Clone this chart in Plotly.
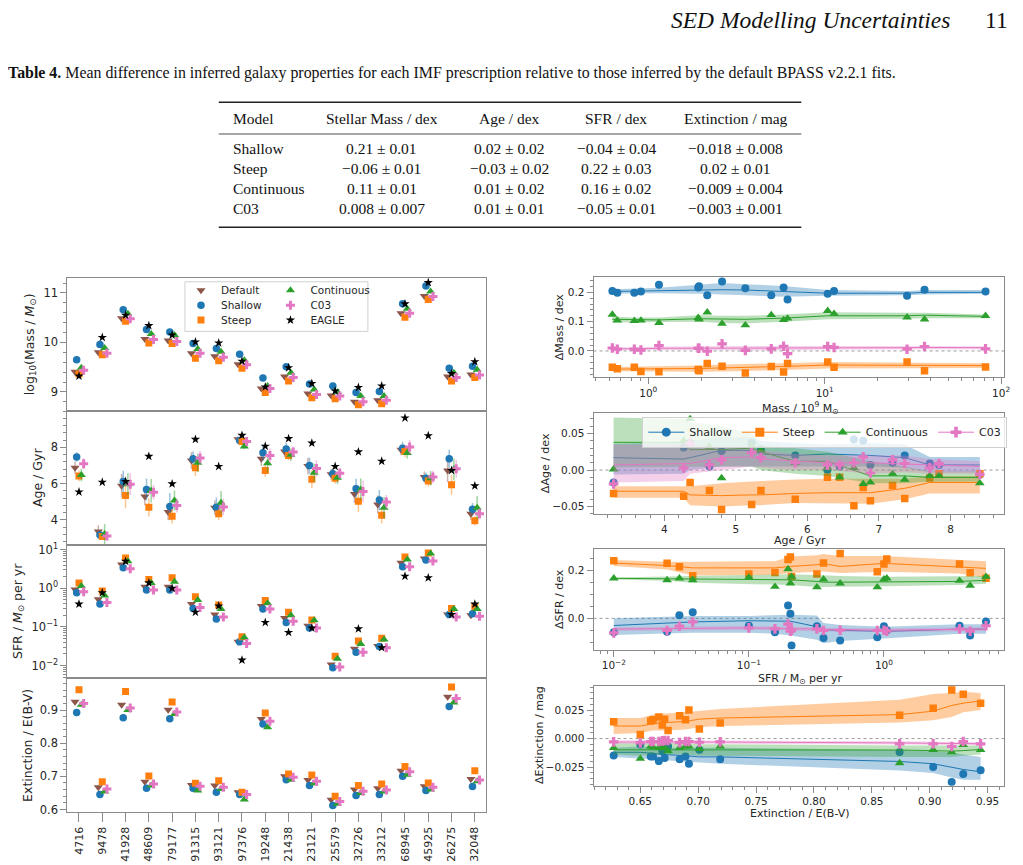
import plotly.graph_objects as go

# ---------------- left figure: 18 galaxies ----------------
galaxy_ids = ["4716", "9478", "41928", "48609", "79177", "91315", "93121", "97376", "19248",
              "21438", "23121", "25579", "32726", "33212", "68945", "45925", "26275", "32048"]

mass_default = [9.41, 9.80, 10.49, 10.07, 10.04, 9.78, 9.72, 9.56, 9.07, 9.31, 8.97, 8.93, 8.80, 8.83, 10.59, 10.94, 9.31, 9.35]
mass_shallow = [9.65, 9.96, 10.66, 10.26, 10.21, 9.98, 9.88, 9.76, 9.28, 9.51, 9.16, 9.12, 8.99, 9.01, 10.78, 11.14, 9.48, 9.52]
mass_steep = [9.36, 9.75, 10.43, 9.99, 9.98, 9.68, 9.63, 9.48, 8.99, 9.22, 8.88, 8.86, 8.74, 8.76, 10.51, 10.87, 9.22, 9.29]
mass_cont = [9.49, 9.89, 10.58, 10.17, 10.15, 9.87, 9.81, 9.64, 9.12, 9.39, 9.05, 9.00, 8.92, 8.92, 10.68, 11.03, 9.39, 9.45]
mass_c03 = [9.44, 9.78, 10.48, 10.06, 10.02, 9.78, 9.70, 9.55, 9.07, 9.29, 8.95, 8.92, 8.80, 8.83, 10.59, 10.93, 9.29, 9.34]
mass_eagle = [9.32, 10.10, 10.55, 10.34, 10.15, 10.01, 9.99, 9.62, 9.10, 9.49, 9.17, 9.02, 9.09, 9.12, 10.78, 11.21, 9.37, 9.61]

age_default = [6.88, 3.35, 5.88, 5.29, 4.43, 7.28, 4.67, 8.45, 7.38, 7.78, 6.97, 6.52, 5.43, 4.85, 7.87, 6.37, 6.73, 4.34]
age_shallow = [7.48, 3.17, 6.12, 5.68, 4.74, 7.38, 4.69, 8.38, 7.71, 7.91, 7.00, 6.55, 5.72, 5.10, 7.96, 6.30, 7.37, 4.58]
age_steep = [6.43, 3.08, 5.34, 4.69, 4.20, 6.88, 4.34, 8.33, 6.73, 7.55, 6.24, 6.30, 5.03, 4.25, 7.78, 6.15, 5.94, 3.95]
age_cont = [6.48, 3.22, 5.97, 5.61, 5.07, 7.15, 4.94, 8.05, 7.13, 7.60, 6.61, 6.33, 5.68, 4.67, 7.69, 6.30, 6.79, 4.67]
age_c03 = [7.10, 3.11, 5.97, 5.52, 4.80, 7.42, 4.71, 8.33, 7.55, 7.75, 6.84, 6.57, 5.57, 4.98, 8.02, 6.37, 6.82, 4.34]
age_eagle = [5.54, 6.08, 6.12, 7.51, 5.99, 8.45, 6.95, 8.67, 8.07, 8.49, 8.24, 6.95, 7.76, 7.24, 9.63, 8.65, 6.73, 5.88]

age_err_default = [0.35, 0.35, 0.65, 0.5, 0.45, 0.45, 0.4, 0.15, 0.4, 0.3, 0.45, 0.3, 0.5, 0.5, 0.3, 0.3, 0.65, 0.35]
age_err_shallow = [0.25, 0.15, 0.6, 0.6, 0.75, 0.4, 0.55, 0.15, 0.45, 0.35, 0.45, 0.3, 0.55, 0.55, 0.35, 0.3, 0.5, 0.35]
age_err_steep = [0.3, 0.15, 0.7, 0.5, 0.4, 0.45, 0.35, 0.15, 0.35, 0.25, 0.5, 0.3, 0.6, 0.45, 0.3, 0.3, 0.55, 0.25]
age_err_cont = [0.35, 0.55, 0.6, 0.65, 0.55, 0.5, 0.65, 0.15, 0.5, 0.35, 0.5, 0.35, 0.6, 0.6, 0.3, 0.4, 0.6, 0.65]
age_err_c03 = [0.3, 0.15, 0.6, 0.4, 0.4, 0.4, 0.45, 0.15, 0.4, 0.3, 0.45, 0.3, 0.6, 0.4, 0.4, 0.35, 0.5, 0.3]

sfr_default = [0.93, 0.52, 4.1, 1.1, 1.1, 0.39, 0.21, 0.041, 0.35, 0.17, 0.107, 0.0107, 0.027, 0.032, 4.6, 5.9, 0.21, 0.20]
sfr_shallow = [0.77, 0.39, 3.4, 0.9, 0.9, 0.30, 0.16, 0.041, 0.29, 0.13, 0.093, 0.0087, 0.022, 0.031, 3.6, 5.4, 0.21, 0.22]
sfr_steep = [1.38, 0.85, 6.1, 1.7, 1.87, 0.60, 0.37, 0.056, 0.48, 0.24, 0.15, 0.0174, 0.043, 0.051, 6.5, 8.2, 0.30, 0.34]
sfr_cont = [1.15, 0.65, 5.0, 1.38, 1.48, 0.50, 0.29, 0.053, 0.41, 0.20, 0.148, 0.015, 0.036, 0.047, 5.6, 7.9, 0.29, 0.29]
sfr_c03 = [0.81, 0.43, 3.2, 0.9, 0.9, 0.32, 0.18, 0.037, 0.29, 0.14, 0.093, 0.0091, 0.022, 0.029, 3.6, 5.1, 0.18, 0.19]
sfr_eagle = [0.39, 0.77, 5.0, 1.38, 1.0, 0.24, 0.35, 0.0138, 0.13, 0.072, 0.093, None, 0.089, 0.029, 2.05, 1.87, 0.21, 0.39]

ext_default = [0.925, 0.667, 0.916, 0.684, 0.901, 0.674, 0.672, 0.652, 0.873, 0.700, 0.689, 0.629, 0.660, 0.664, 0.717, 0.670, 0.940, 0.692]
ext_shallow = [0.893, 0.645, 0.877, 0.664, 0.874, 0.664, 0.652, 0.645, 0.858, 0.690, 0.672, 0.612, 0.642, 0.645, 0.700, 0.657, 0.911, 0.669]
ext_steep = [0.961, 0.684, 0.956, 0.701, 0.924, 0.679, 0.687, 0.652, 0.891, 0.707, 0.704, 0.640, 0.672, 0.677, 0.730, 0.680, 0.970, 0.717]
ext_cont = [0.916, 0.654, 0.900, 0.672, 0.888, 0.657, 0.662, 0.630, 0.848, 0.690, 0.679, 0.617, 0.650, 0.654, 0.705, 0.660, 0.923, 0.685]
ext_c03 = [0.920, 0.662, 0.906, 0.677, 0.894, 0.670, 0.667, 0.645, 0.866, 0.697, 0.685, 0.624, 0.655, 0.659, 0.714, 0.667, 0.935, 0.689]

# ---------------- right figure: differences vs default ----------------
dmass_x = [0.626, 0.668, 0.834, 0.909, 1.15, 1.92, 1.94, 2.16, 2.62, 3.55, 4.98, 5.85, 6.16, 10.4, 11.3, 29.3, 36.8, 81.6]
dmass_shallow = [0.205, 0.199, 0.199, 0.203, 0.226, 0.217, 0.221, 0.190, 0.237, 0.214, 0.190, 0.217, 0.176, 0.195, 0.205, 0.188, 0.209, 0.203]
dmass_steep = [-0.056, -0.061, -0.056, -0.070, -0.071, -0.063, -0.068, -0.043, -0.052, -0.075, -0.053, -0.072, -0.043, -0.038, -0.056, -0.038, -0.068, -0.055]
dmass_cont = [0.124, 0.104, 0.103, 0.104, 0.096, 0.113, 0.108, 0.132, 0.093, 0.088, 0.123, 0.106, 0.111, 0.137, 0.127, 0.115, 0.108, 0.120]
dmass_c03 = [0.010, 0.006, 0.006, 0.003, 0.018, 0.009, 0.009, -0.001, 0.024, 0.002, 0.007, 0.016, -0.009, 0.015, 0.012, 0.006, 0.015, 0.007]

dmass_nodes = [0.626, 0.834, 1.15, 1.94, 2.62, 3.55, 5.85, 10.4, 29.3, 36.8, 81.6]
dmass_shallow_mid = [0.203, 0.204, 0.207, 0.209, 0.209, 0.208, 0.204, 0.197, 0.197, 0.200, 0.200]
dmass_shallow_lo = [0.195, 0.196, 0.197, 0.195, 0.193, 0.190, 0.185, 0.188, 0.190, 0.193, 0.195]
dmass_shallow_hi = [0.211, 0.213, 0.216, 0.226, 0.232, 0.228, 0.222, 0.208, 0.205, 0.208, 0.208]
dmass_steep_mid = [-0.062, -0.062, -0.061, -0.060, -0.058, -0.057, -0.053, -0.048, -0.049, -0.050, -0.050]
dmass_steep_lo = [-0.069, -0.070, -0.071, -0.071, -0.070, -0.069, -0.065, -0.060, -0.058, -0.060, -0.058]
dmass_steep_hi = [-0.055, -0.054, -0.052, -0.050, -0.046, -0.045, -0.042, -0.038, -0.040, -0.040, -0.042]
dmass_cont_mid = [0.108, 0.106, 0.106, 0.110, 0.108, 0.108, 0.112, 0.120, 0.120, 0.122, 0.118]
dmass_cont_lo = [0.097, 0.098, 0.097, 0.100, 0.095, 0.094, 0.100, 0.108, 0.110, 0.112, 0.112]
dmass_cont_hi = [0.118, 0.114, 0.114, 0.122, 0.120, 0.120, 0.124, 0.132, 0.130, 0.130, 0.124]
dmass_c03_mid = [0.008, 0.007, 0.009, 0.009, 0.010, 0.009, 0.010, 0.011, 0.011, 0.012, 0.011]
dmass_c03_lo = [0.003, 0.002, 0.003, 0.003, 0.003, 0.003, 0.002, 0.005, 0.005, 0.006, 0.006]
dmass_c03_hi = [0.013, 0.012, 0.015, 0.016, 0.017, 0.016, 0.017, 0.017, 0.017, 0.018, 0.016]

dage_x = [3.29, 4.27, 4.36, 4.63, 4.80, 5.22, 5.35, 5.83, 6.28, 6.45, 6.65, 6.78, 6.88, 7.19, 7.36, 7.71, 7.84, 8.41]
dage_shallow = [-0.017, 0.031, 0.037, 0.005, 0.026, 0.037, 0.028, 0.020, 0.000, 0.005, 0.042, 0.040, 0.007, 0.010, 0.020, 0.009, 0.007, -0.006]
dage_steep = [-0.032, -0.036, -0.017, -0.028, -0.054, -0.047, -0.028, -0.040, -0.010, -0.010, -0.049, -0.024, -0.042, -0.021, -0.039, -0.011, -0.005, -0.005]
dage_cont = [0.001, 0.040, 0.070, 0.032, -0.011, 0.033, 0.027, 0.010, 0.003, -0.010, 0.003, -0.019, -0.017, -0.005, -0.013, -0.008, -0.008, -0.018]
dage_c03 = [-0.019, 0.003, 0.037, 0.007, 0.014, 0.024, 0.017, 0.010, 0.007, 0.007, 0.010, 0.018, -0.004, 0.014, 0.009, 0.003, 0.009, -0.006]

dage_nodes = [3.29, 4.27, 4.36, 4.80, 5.22, 5.35, 5.83, 6.28, 6.88, 7.36, 7.71, 8.41]
dage_shallow_mid = [0.017, 0.015, 0.017, 0.027, 0.027, 0.022, 0.020, 0.022, 0.020, 0.017, 0.007, 0.007]
dage_shallow_lo = [-0.006, -0.005, 0.000, 0.005, 0.005, 0.005, 0.005, 0.005, 0.005, 0.003, -0.003, -0.003]
dage_shallow_hi = [0.036, 0.038, 0.040, 0.045, 0.045, 0.040, 0.037, 0.035, 0.037, 0.035, 0.018, 0.018]
dage_steep_mid = [-0.029, -0.029, -0.034, -0.035, -0.034, -0.034, -0.032, -0.031, -0.031, -0.025, -0.017, -0.017]
dage_steep_lo = [-0.038, -0.038, -0.048, -0.050, -0.048, -0.048, -0.045, -0.045, -0.046, -0.040, -0.032, -0.032]
dage_steep_hi = [-0.022, -0.022, -0.022, -0.018, -0.015, -0.015, -0.013, -0.012, -0.012, -0.012, -0.008, -0.008]
dage_cont_mid = [0.038, 0.038, 0.028, 0.028, 0.030, 0.025, 0.012, 0.012, -0.008, -0.008, -0.010, -0.010]
dage_cont_lo = [0.004, 0.004, 0.004, 0.005, 0.005, 0.000, -0.005, -0.008, -0.018, -0.018, -0.016, -0.016]
dage_cont_hi = [0.072, 0.070, 0.066, 0.060, 0.050, 0.035, 0.030, 0.025, 0.012, 0.005, -0.002, -0.002]
dage_c03_mid = [0.007, 0.008, 0.009, 0.017, 0.018, 0.015, 0.012, 0.010, 0.010, 0.008, 0.007, 0.005]
dage_c03_lo = [-0.017, -0.015, -0.005, 0.000, 0.005, 0.003, 0.000, 0.000, -0.005, -0.003, -0.005, -0.005]
dage_c03_hi = [0.035, 0.035, 0.035, 0.030, 0.030, 0.027, 0.022, 0.020, 0.020, 0.020, 0.015, 0.012]

dsfr_x = [0.0100, 0.0248, 0.0306, 0.0384, 0.100, 0.156, 0.195, 0.203, 0.207, 0.319, 0.357, 0.474, 0.893, 1.00, 1.05, 3.63, 4.35, 5.70]
dsfr_shallow = [-0.058, -0.056, 0.013, 0.026, -0.031, -0.058, 0.054, 0.019, -0.114, -0.033, -0.082, -0.093, -0.079, -0.033, -0.050, -0.031, -0.072, -0.013]
dsfr_steep = [0.242, 0.231, 0.217, 0.179, 0.186, 0.193, 0.247, 0.258, 0.175, 0.186, 0.233, 0.272, 0.196, 0.228, 0.249, 0.228, 0.192, 0.168]
dsfr_cont = [0.168, 0.161, 0.168, 0.161, 0.172, 0.133, 0.207, 0.147, 0.175, 0.131, 0.164, 0.147, 0.131, 0.164, 0.168, 0.158, 0.138, 0.175]
dsfr_c03 = [-0.061, -0.051, -0.033, -0.015, -0.040, -0.044, -0.024, -0.054, -0.050, -0.044, -0.051, -0.050, -0.051, -0.050, -0.054, -0.044, -0.054, -0.031]

dsfr_nodes = [0.0100, 0.0248, 0.0384, 0.100, 0.156, 0.203, 0.319, 0.357, 0.474, 1.00, 3.63, 5.70]
dsfr_shallow_mid = [-0.030, -0.020, -0.015, -0.010, -0.012, -0.012, -0.035, -0.048, -0.050, -0.055, -0.045, -0.045]
dsfr_shallow_lo = [-0.070, -0.065, -0.060, -0.060, -0.065, -0.072, -0.090, -0.105, -0.095, -0.085, -0.065, -0.065]
dsfr_shallow_hi = [0.000, 0.005, 0.010, 0.010, 0.012, 0.015, 0.012, -0.020, -0.028, -0.035, -0.025, -0.025]
dsfr_steep_mid = [0.232, 0.222, 0.212, 0.212, 0.212, 0.218, 0.225, 0.230, 0.218, 0.231, 0.217, 0.210]
dsfr_steep_lo = [0.220, 0.205, 0.180, 0.183, 0.183, 0.190, 0.195, 0.197, 0.190, 0.196, 0.188, 0.170]
dsfr_steep_hi = [0.245, 0.238, 0.238, 0.240, 0.240, 0.260, 0.265, 0.270, 0.262, 0.262, 0.245, 0.240]
dsfr_cont_mid = [0.168, 0.166, 0.165, 0.165, 0.163, 0.162, 0.155, 0.152, 0.152, 0.152, 0.155, 0.160]
dsfr_cont_lo = [0.163, 0.158, 0.150, 0.145, 0.142, 0.140, 0.132, 0.132, 0.133, 0.135, 0.140, 0.145]
dsfr_cont_hi = [0.172, 0.174, 0.178, 0.182, 0.183, 0.185, 0.182, 0.180, 0.178, 0.175, 0.176, 0.178]
dsfr_c03_mid = [-0.045, -0.043, -0.040, -0.040, -0.042, -0.043, -0.045, -0.048, -0.048, -0.050, -0.046, -0.045]
dsfr_c03_lo = [-0.053, -0.050, -0.048, -0.048, -0.050, -0.052, -0.053, -0.055, -0.055, -0.057, -0.055, -0.053]
dsfr_c03_hi = [-0.037, -0.035, -0.032, -0.032, -0.034, -0.034, -0.037, -0.040, -0.041, -0.043, -0.038, -0.037]

dext_x = [0.627, 0.650, 0.659, 0.661, 0.666, 0.669, 0.671, 0.674, 0.684, 0.689, 0.692, 0.701, 0.719, 0.874, 0.903, 0.919, 0.929, 0.944]
dext_shallow = [-0.0147, -0.0052, -0.0156, -0.0156, -0.0197, -0.011, -0.017, -0.0069, -0.018, -0.0156, -0.022, -0.0098, -0.018, -0.0118, -0.0249, -0.0379, -0.031, -0.0277]
dext_steep = [0.0147, 0.0035, 0.0153, 0.0165, 0.019, 0.012, 0.017, 0.007, 0.020, 0.0165, 0.025, 0.0084, 0.0136, 0.0205, 0.0266, 0.0425, 0.0387, 0.031]
dext_cont = [-0.0081, -0.0176, -0.0069, -0.0075, -0.0081, -0.0069, -0.0084, -0.011, -0.0081, -0.0069, -0.0069, -0.009, -0.0069, -0.0214, -0.0098, -0.0118, -0.0055, -0.0098]
dext_c03 = [-0.0029, -0.0038, -0.0026, -0.0026, -0.0026, -0.0020, -0.0017, -0.0017, -0.0035, -0.0026, -0.0026, -0.0032, -0.0029, -0.0046, -0.0046, -0.0069, -0.0026, -0.0046]

dext_nodes = [0.627, 0.650, 0.661, 0.671, 0.689, 0.701, 0.719, 0.874, 0.903, 0.919, 0.929, 0.944]
dext_shallow_mid = [-0.012, -0.012, -0.013, -0.014, -0.015, -0.016, -0.016, -0.020, -0.022, -0.025, -0.027, -0.029]
dext_shallow_lo = [-0.016, -0.017, -0.018, -0.019, -0.020, -0.021, -0.022, -0.028, -0.030, -0.034, -0.036, -0.036]
dext_shallow_hi = [-0.008, -0.007, -0.008, -0.008, -0.008, -0.008, -0.008, -0.010, -0.011, -0.012, -0.014, -0.016]
dext_steep_mid = [0.011, 0.011, 0.013, 0.014, 0.015, 0.017, 0.018, 0.021, 0.024, 0.029, 0.031, 0.033]
dext_steep_lo = [0.004, 0.005, 0.007, 0.007, 0.008, 0.010, 0.011, 0.014, 0.016, 0.019, 0.023, 0.025]
dext_steep_hi = [0.018, 0.018, 0.021, 0.022, 0.023, 0.024, 0.026, 0.034, 0.039, 0.040, 0.041, 0.040]
dext_cont_mid = [-0.0098, -0.0098, -0.0096, -0.0095, -0.0095, -0.0097, -0.0098, -0.0100, -0.0105, -0.0110, -0.0105, -0.0095]
dext_cont_lo = [-0.014, -0.015, -0.014, -0.014, -0.014, -0.015, -0.015, -0.016, -0.016, -0.016, -0.015, -0.014]
dext_cont_hi = [-0.004, -0.004, -0.004, -0.004, -0.004, -0.005, -0.005, -0.006, -0.006, -0.006, -0.006, -0.006]
dext_c03_mid = [-0.0030, -0.0030, -0.0028, -0.0026, -0.0028, -0.0030, -0.0030, -0.0038, -0.0042, -0.0045, -0.0045, -0.0045]
dext_c03_lo = [-0.0045, -0.0045, -0.0042, -0.0040, -0.0042, -0.0044, -0.0045, -0.0052, -0.0056, -0.0060, -0.0060, -0.0058]
dext_c03_hi = [-0.0015, -0.0015, -0.0014, -0.0012, -0.0014, -0.0016, -0.0016, -0.0024, -0.0028, -0.0030, -0.0030, -0.0032]

# ---------------- table 4 ----------------
table_header = ["Model", "Stellar Mass / dex", "Age / dex", "SFR / dex", "Extinction / mag"]
table_models = ["Shallow", "Steep", "Continuous", "C03"]
table_mass = ["0.21 ± 0.01", "−0.06 ± 0.01", "0.11 ± 0.01", "0.008 ± 0.007"]
table_age = ["0.02 ± 0.02", "−0.03 ± 0.02", "0.01 ± 0.02", "0.01 ± 0.01"]
table_sfr = ["−0.04 ± 0.04", "0.22 ± 0.03", "0.16 ± 0.02", "−0.05 ± 0.01"]
table_ext = ["−0.018 ± 0.008", "0.02 ± 0.01", "−0.009 ± 0.004", "−0.003 ± 0.001"]

# ---------------- styling ----------------
W, H = 1023, 865
PAGE_OFF = 8  # the html body margin shifts the figure by 8px
FONT = "DejaVu Sans"
SERIF = "Liberation Serif"
AX = "#8a8a8a"
TXT = "#262626"

COLORS = {"Default": "#8c564b", "Shallow": "#1f77b4", "Steep": "#ff7f0e",
          "Continuous": "#2ca02c", "C03": "#e377c2", "EAGLE": "#000000"}
BANDS = {"Shallow": "rgba(31,119,180,0.35)", "Steep": "rgba(255,127,14,0.4)",
         "Continuous": "rgba(44,160,44,0.32)", "C03": "rgba(227,119,194,0.35)"}
SYMBOLS = {"Default": "triangle-down", "Shallow": "circle", "Steep": "square",
           "Continuous": "triangle-up", "C03": "cross", "EAGLE": "star"}
SIZES = {"Default": 8, "Shallow": 7.5, "Steep": 7, "Continuous": 8, "C03": 7.5, "EAGLE": 7}
OFFSETS = {"Default": -0.17, "Shallow": -0.1, "Steep": 0.0, "Continuous": 0.1, "C03": 0.2, "EAGLE": 0.0}


def px(x):
    return (x - PAGE_OFF) / W


def py(y):
    return 1 - (y - PAGE_OFF) / H


def log_minor(e0, e1):
    return [m * 10 ** e for e in range(e0, e1) for m in range(2, 10)]


fig = go.Figure()

# ---- left panels ----
left_sets = [
    ("y", {"Default": mass_default, "Shallow": mass_shallow, "Steep": mass_steep,
           "Continuous": mass_cont, "C03": mass_c03, "EAGLE": mass_eagle}, None),
    ("y2", {"Default": age_default, "Shallow": age_shallow, "Steep": age_steep,
            "Continuous": age_cont, "C03": age_c03, "EAGLE": age_eagle},
     {"Default": age_err_default, "Shallow": age_err_shallow, "Steep": age_err_steep,
      "Continuous": age_err_cont, "C03": age_err_c03}),
    ("y3", {"Default": sfr_default, "Shallow": sfr_shallow, "Steep": sfr_steep,
            "Continuous": sfr_cont, "C03": sfr_c03, "EAGLE": sfr_eagle}, None),
    ("y4", {"Default": ext_default, "Shallow": ext_shallow, "Steep": ext_steep,
            "Continuous": ext_cont, "C03": ext_c03}, None),
]
# one single-entry legend per item so the two-column box can be laid out exactly
left_legend = {"Default": "legend", "Shallow": "legend2", "Steep": "legend3",
               "Continuous": "legend4", "C03": "legend5", "EAGLE": "legend6"}

for k, (yax, vals, errs) in enumerate(left_sets):
    xax = "x" if k == 0 else f"x{k + 1}"
    for name, ys in vals.items():
        err = None
        if errs is not None and name in errs:
            c = COLORS[name].lstrip("#")
            rgb = tuple(int(c[i:i + 2], 16) for i in (0, 2, 4))
            err = dict(type="data", array=errs[name], thickness=1.5, width=0,
                       color=f"rgba({rgb[0]},{rgb[1]},{rgb[2]},0.45)")
        fig.add_trace(go.Scatter(
            x=[i + OFFSETS[name] for i in range(len(ys))], y=ys,
            mode="markers", name=name, xaxis=xax, yaxis=yax,
            marker=dict(symbol=SYMBOLS[name], size=SIZES[name], color=COLORS[name], line=dict(width=0)),
            error_y=err, showlegend=(k == 0), legend=left_legend[name],
        ))

# ---- right panels ----
right_sets = [
    ("x5", "y5", dmass_x, dmass_nodes, {
        "Shallow": (dmass_shallow, dmass_shallow_mid, dmass_shallow_lo, dmass_shallow_hi),
        "Steep": (dmass_steep, dmass_steep_mid, dmass_steep_lo, dmass_steep_hi),
        "Continuous": (dmass_cont, dmass_cont_mid, dmass_cont_lo, dmass_cont_hi),
        "C03": (dmass_c03, dmass_c03_mid, dmass_c03_lo, dmass_c03_hi)}),
    ("x6", "y6", dage_x, dage_nodes, {
        "Shallow": (dage_shallow, dage_shallow_mid, dage_shallow_lo, dage_shallow_hi),
        "Steep": (dage_steep, dage_steep_mid, dage_steep_lo, dage_steep_hi),
        "Continuous": (dage_cont, dage_cont_mid, dage_cont_lo, dage_cont_hi),
        "C03": (dage_c03, dage_c03_mid, dage_c03_lo, dage_c03_hi)}),
    ("x7", "y7", dsfr_x, dsfr_nodes, {
        "Shallow": (dsfr_shallow, dsfr_shallow_mid, dsfr_shallow_lo, dsfr_shallow_hi),
        "Steep": (dsfr_steep, dsfr_steep_mid, dsfr_steep_lo, dsfr_steep_hi),
        "Continuous": (dsfr_cont, dsfr_cont_mid, dsfr_cont_lo, dsfr_cont_hi),
        "C03": (dsfr_c03, dsfr_c03_mid, dsfr_c03_lo, dsfr_c03_hi)}),
    ("x8", "y8", dext_x, dext_nodes, {
        "Shallow": (dext_shallow, dext_shallow_mid, dext_shallow_lo, dext_shallow_hi),
        "Steep": (dext_steep, dext_steep_mid, dext_steep_lo, dext_steep_hi),
        "Continuous": (dext_cont, dext_cont_mid, dext_cont_lo, dext_cont_hi),
        "C03": (dext_c03, dext_c03_mid, dext_c03_lo, dext_c03_hi)}),
]

for xax, yax, xs, nodes, series in right_sets:
    for name, (pts, mid, lo, hi) in series.items():
        fig.add_trace(go.Scatter(x=nodes, y=lo, mode="lines", line=dict(width=0),
                                 xaxis=xax, yaxis=yax, showlegend=False, hoverinfo="skip"))
        fig.add_trace(go.Scatter(x=nodes, y=hi, mode="lines", line=dict(width=0),
                                 fill="tonexty", fillcolor=BANDS[name],
                                 xaxis=xax, yaxis=yax, showlegend=False, hoverinfo="skip"))
        fig.add_trace(go.Scatter(x=nodes, y=mid, mode="lines", line=dict(color=COLORS[name], width=1),
                                 xaxis=xax, yaxis=yax, showlegend=False))
        fig.add_trace(go.Scatter(x=xs, y=pts, mode="markers", xaxis=xax, yaxis=yax, showlegend=False,
                                 marker=dict(symbol=SYMBOLS[name], size=SIZES[name] + 0.5,
                                             color=COLORS[name], line=dict(width=0))))

# legend entries for the right-hand figure (line + marker)
for name in ["Shallow", "Steep", "Continuous", "C03"]:
    fig.add_trace(go.Scatter(x=[None], y=[None], mode="lines+markers", name=name,
                             xaxis="x6", yaxis="y6", legend="legend7",
                             line=dict(color=COLORS[name], width=1),
                             marker=dict(symbol=SYMBOLS[name], size=9, color=COLORS[name])))

# ---------------- axes ----------------
TICKF_L = dict(family=FONT, size=11.5, color=TXT)
TICKF_R = dict(family=FONT, size=10.5, color=TXT)


def axis(domain, anchor, rng, tickf, **kw):
    d = dict(domain=domain, anchor=anchor, range=rng, showline=True, mirror=True,
             linecolor=AX, linewidth=1, showgrid=False, zeroline=False,
             ticks="outside", ticklen=6, tickcolor=AX, tickwidth=1, tickfont=tickf)
    d.update(kw)
    return d


def minor(**kw):
    d = dict(ticks="outside", ticklen=3, tickcolor=AX, tickwidth=1, showgrid=False)
    d.update(kw)
    return d


LX = [px(67.7), px(489.3)]
RX = [px(597), px(1010)]
left_y = [[py(411), py(277.3)], [py(546), py(411)], [py(680.7), py(546)], [py(816), py(680.7)]]
right_y = [[py(377), py(276)], [py(515), py(413)], [py(652), py(550.7)], [py(789), py(688.3)]]

lay = {}
for k in range(4):
    key = "xaxis" if k == 0 else f"xaxis{k + 1}"
    anchor = "y" if k == 0 else f"y{k + 1}"
    bottom = k == 3
    lay[key] = axis(LX, anchor, [-0.5, 17.5], dict(family=FONT, size=11, color=TXT), tickmode="array",
                    tickvals=list(range(len(galaxy_ids))), ticktext=galaxy_ids,
                    ticks="outside" if bottom else "", ticklen=9,
                    showticklabels=bottom, tickangle=-90)

lay["yaxis"] = axis(left_y[0], "x", [8.62, 11.3], TICKF_L, dtick=1, tick0=9,
                    minor=minor(dtick=0.2, tick0=9))
lay["yaxis2"] = axis(left_y[1], "x2", [2.63, 10.03], TICKF_L, tickvals=[4, 6, 8],
                     minor=minor(dtick=0.4, tick0=0))
lay["yaxis3"] = axis(left_y[2], "x3", [-2.33, 1.13], TICKF_L, type="log",
                     tickvals=[0.01, 0.1, 1, 10],
                     ticktext=["10<sup>−2</sup>", "10<sup>−1</sup>", "10<sup>0</sup>", "10<sup>1</sup>"],
                     minor=minor(tickmode="array", tickvals=log_minor(-3, 2)))
lay["yaxis4"] = axis(left_y[3], "x4", [0.591, 0.996], TICKF_L, dtick=0.1, tick0=0.6,
                     tickformat=".1f", minor=minor(dtick=0.02, tick0=0.6))

lay["xaxis5"] = axis(RX, "y5", [-0.31, 2.017], TICKF_R, type="log", tickvals=[1, 10, 100],
                     ticktext=["10<sup>0</sup>", "10<sup>1</sup>", "10<sup>2</sup>"],
                     minor=minor(tickmode="array", tickvals=log_minor(-1, 3)))
lay["yaxis5"] = axis(right_y[0], "x5", [-0.089, 0.253], TICKF_R, tickvals=[0, 0.1, 0.2],
                     tickformat=".1f", minor=minor(dtick=0.02, tick0=0))
lay["xaxis6"] = axis(RX, "y6", [3.01, 8.75], TICKF_R, dtick=1, tick0=0,
                     minor=minor(dtick=0.2, tick0=0))
lay["yaxis6"] = axis(right_y[1], "x6", [-0.060, 0.0785], TICKF_R, tickvals=[-0.05, 0, 0.05],
                     tickformat=".2f", minor=minor(dtick=0.01, tick0=0))
lay["xaxis7"] = axis(RX, "y7", [-2.15, 0.89], TICKF_R, type="log", tickvals=[0.01, 0.1, 1],
                     ticktext=["10<sup>−2</sup>", "10<sup>−1</sup>", "10<sup>0</sup>"],
                     minor=minor(tickmode="array", tickvals=log_minor(-3, 1)))
lay["yaxis7"] = axis(right_y[2], "x7", [-0.132, 0.29], TICKF_R, tickvals=[0, 0.2],
                     tickformat=".1f", minor=minor(dtick=0.05, tick0=0))
lay["xaxis8"] = axis(RX, "y8", [0.6096, 0.9643], TICKF_R, dtick=0.05, tick0=0.6,
                     tickformat=".2f", minor=minor(dtick=0.01, tick0=0.6))
lay["yaxis8"] = axis(right_y[3], "x8", [-0.0412, 0.0462], TICKF_R, tickvals=[-0.025, 0, 0.025],
                     tickformat=".3f", minor=minor(dtick=0.005, tick0=0))

fig.update_layout(**lay)

# ---------------- axis titles ----------------
ann = []


def title(text, x, y, size, angle=0):
    ann.append(dict(text=text, x=px(x), y=py(y), xref="paper", yref="paper",
                    showarrow=False, textangle=angle, xanchor="center", yanchor="middle",
                    font=dict(family=FONT, size=size, color=TXT)))


title("log<sub>10</sub>(Mass / <i>M</i><sub>⊙</sub>)", 30, 344, 12.5, -90)
title("Age / Gyr", 37, 478, 12.5, -90)
title("SFR / <i>M</i><sub>⊙</sub> per yr", 18, 613, 12.5, -90)
title("Extinction / E(B-V)", 27, 748, 12.5, -90)

title("ΔMass / dex", 563, 327, 11, -90)
title("ΔAge / dex", 548, 464, 11, -90)
title("ΔSFR / dex", 562, 601, 11, -90)
title("ΔExtinction / mag", 542, 738, 11, -90)
title("Mass / 10<sup>9</sup> M<sub>⊙</sub>", 805, 408, 11)
title("Age / Gyr", 805, 542, 11)
title("SFR / M<sub>⊙</sub> per yr", 805, 681, 11)
title("Extinction / E(B-V)", 805, 817, 11)

# ---------------- page header, caption and table ----------------
ann.append(dict(text="<i>SED Modelling Uncertainties</i>", x=px(958), y=py(17), xref="paper", yref="paper",
                showarrow=False, xanchor="right", yanchor="middle",
                font=dict(family=SERIF, size=23.5, color="#111")))
ann.append(dict(text="11", x=px(1016), y=py(17), xref="paper", yref="paper",
                showarrow=False, xanchor="right", yanchor="middle",
                font=dict(family=SERIF, size=23.5, color="#111")))
ann.append(dict(text="<b>Table 4.</b> Mean difference in inferred galaxy properties for each IMF prescription "
                     "relative to those inferred by the default BPASS v2.2.1 fits.",
                x=px(6), y=py(71), xref="paper", yref="paper", showarrow=False,
                xanchor="left", yanchor="middle", font=dict(family=SERIF, size=15.9, color="#111")))

col_x = [232, 384, 512, 620, 740]
row_y = [147, 167, 187, 207]
for j, head in enumerate(table_header):
    ann.append(dict(text=head, x=px(col_x[j]), y=py(116), xref="paper", yref="paper", showarrow=False,
                    xanchor="left" if j == 0 else "center", yanchor="middle",
                    font=dict(family=SERIF, size=15.5, color="#111")))
for i, model in enumerate(table_models):
    cells = [model, table_mass[i], table_age[i], table_sfr[i], table_ext[i]]
    for j, cell in enumerate(cells):
        ann.append(dict(text=cell, x=px(col_x[j]), y=py(row_y[i]), xref="paper", yref="paper",
                        showarrow=False, xanchor="left" if j == 0 else "center", yanchor="middle",
                        font=dict(family=SERIF, size=15.5, color="#111")))

shapes = [
    dict(type="line", xref="paper", yref="paper", x0=px(220), x1=px(806), y0=py(100), y1=py(100),
         line=dict(color="#222", width=1.3)),
    dict(type="line", xref="paper", yref="paper", x0=px(220), x1=px(806), y0=py(132), y1=py(132),
         line=dict(color="#222", width=0.8)),
    dict(type="line", xref="paper", yref="paper", x0=px(220), x1=px(806), y0=py(226), y1=py(226),
         line=dict(color="#222", width=1.3)),
    # legend frame of the left figure
    dict(type="rect", xref="paper", yref="paper", x0=px(186), x1=px(370), y0=py(331), y1=py(281),
         line=dict(color="#d0d0d0", width=1), fillcolor="rgba(255,255,255,0.8)", layer="above"),
]
for k in range(5, 9):
    shapes.append(dict(type="line", xref=f"x{k} domain", yref=f"y{k}", x0=0, x1=1, y0=0, y1=0,
                       line=dict(color="#9a9a9a", width=1, dash="dot"), layer="below"))

leg_common = dict(bgcolor="rgba(0,0,0,0)", borderwidth=0, xanchor="left", yanchor="top",
                  font=dict(family=FONT, size=10.5, color=TXT), traceorder="normal")
legend_pos = {"legend": (182, 275), "legend2": (182, 290), "legend3": (182, 305),
              "legend4": (272, 275), "legend5": (272, 290), "legend6": (272, 305)}
legends = {key: dict(x=px(lx), y=py(ly), **leg_common) for key, (lx, ly) in legend_pos.items()}

fig.update_layout(
    width=W, height=H,
    margin=dict(l=0, r=0, t=0, b=0),
    paper_bgcolor="white", plot_bgcolor="white",
    font=dict(family=FONT, color=TXT),
    annotations=ann, shapes=shapes,
    legend7=dict(x=px(646), y=py(417), xanchor="left", yanchor="top", orientation="h",
                 traceorder="normal", bgcolor="rgba(255,255,255,0.8)", bordercolor="#d0d0d0",
                 borderwidth=1, itemwidth=36, font=dict(family=FONT, size=11, color=TXT)),
    **legends,
)

fig.write_html("out.html")
